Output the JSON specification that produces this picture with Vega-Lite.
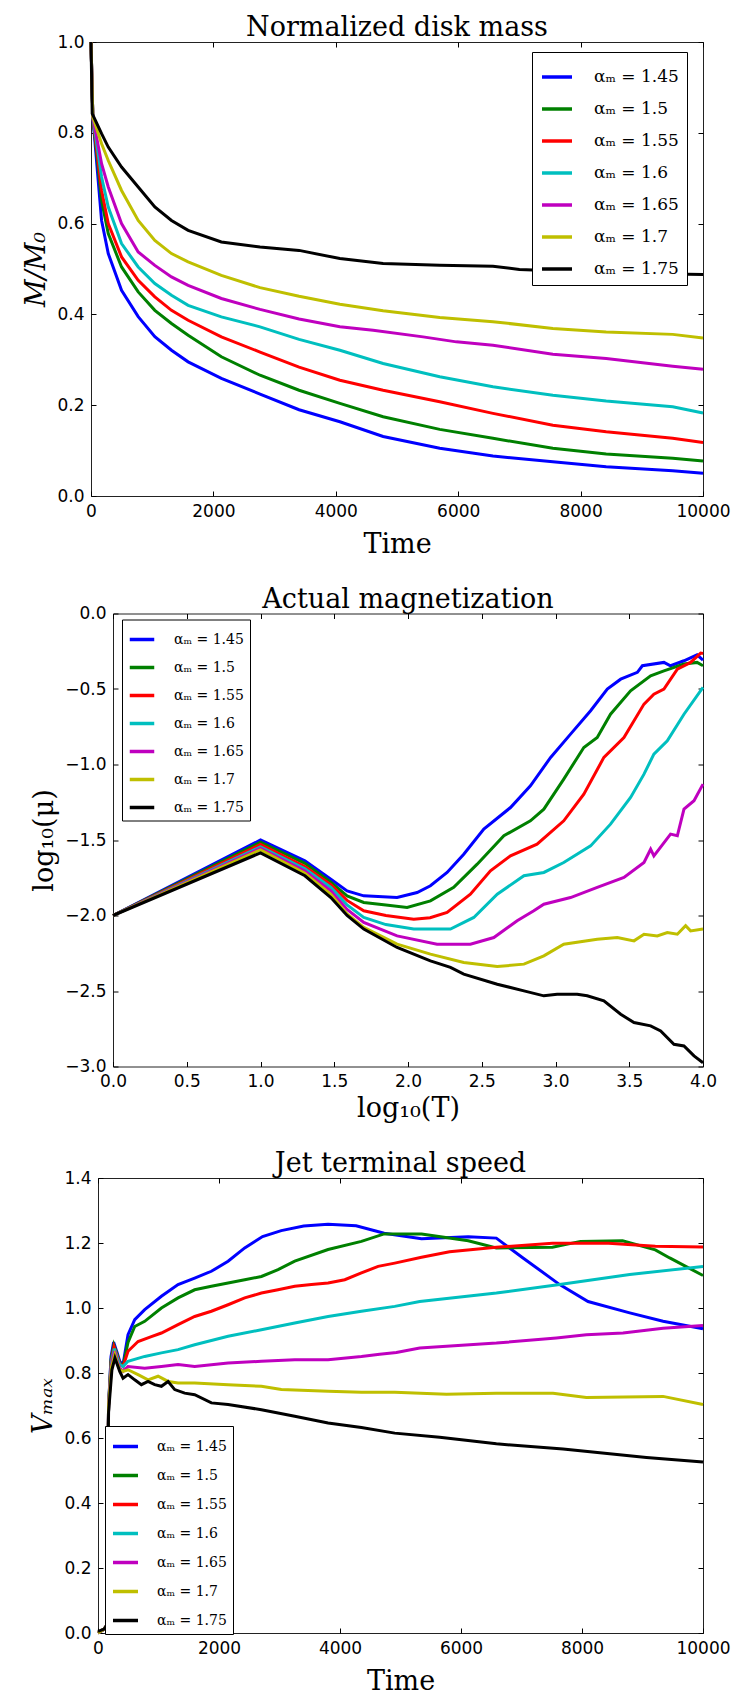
{
"$schema": "https://vega.github.io/schema/vega-lite/v6.json",
"background": "white",
"padding": {"left": 0, "top": 13, "right": 0, "bottom": 0},
"spacing": 26.5,
"resolve": {"scale": {"color": "independent"}, "legend": {"color": "independent"}},
"datasets": {
"mass": [
{"s":"αₘ = 1.45","x":0,"y":1.0},{"s":"αₘ = 1.45","x":30,"y":0.835},{"s":"αₘ = 1.45","x":173,"y":0.607},{"s":"αₘ = 1.45","x":282,"y":0.534},{"s":"αₘ = 1.45","x":499,"y":0.453},{"s":"αₘ = 1.45","x":771,"y":0.395},{"s":"αₘ = 1.45","x":1043,"y":0.351},{"s":"αₘ = 1.45","x":1315,"y":0.321},{"s":"αₘ = 1.45","x":1587,"y":0.2955},{"s":"αₘ = 1.45","x":2130,"y":0.259},{"s":"αₘ = 1.45","x":2762,"y":0.2245},{"s":"αₘ = 1.45","x":3400,"y":0.19},{"s":"αₘ = 1.45","x":4067,"y":0.1635},{"s":"αₘ = 1.45","x":4773,"y":0.131},{"s":"αₘ = 1.45","x":5698,"y":0.105},{"s":"αₘ = 1.45","x":6568,"y":0.088},{"s":"αₘ = 1.45","x":7547,"y":0.0755},{"s":"αₘ = 1.45","x":8418,"y":0.0645},{"s":"αₘ = 1.45","x":9505,"y":0.0557},{"s":"αₘ = 1.45","x":10000,"y":0.05},
{"s":"αₘ = 1.5","x":0,"y":1.0},{"s":"αₘ = 1.5","x":30,"y":0.835},{"s":"αₘ = 1.5","x":173,"y":0.651},{"s":"αₘ = 1.5","x":282,"y":0.578},{"s":"αₘ = 1.5","x":499,"y":0.5045},{"s":"αₘ = 1.5","x":771,"y":0.4496},{"s":"αₘ = 1.5","x":1043,"y":0.409},{"s":"αₘ = 1.5","x":1315,"y":0.38},{"s":"αₘ = 1.5","x":1587,"y":0.354},{"s":"αₘ = 1.5","x":2130,"y":0.3066},{"s":"αₘ = 1.5","x":2762,"y":0.266},{"s":"αₘ = 1.5","x":3400,"y":0.233},{"s":"αₘ = 1.5","x":4067,"y":0.204},{"s":"αₘ = 1.5","x":4773,"y":0.1745},{"s":"αₘ = 1.5","x":5698,"y":0.1467},{"s":"αₘ = 1.5","x":6568,"y":0.127},{"s":"αₘ = 1.5","x":7547,"y":0.105},{"s":"αₘ = 1.5","x":8418,"y":0.0924},{"s":"αₘ = 1.5","x":9505,"y":0.083},{"s":"αₘ = 1.5","x":10000,"y":0.077},
{"s":"αₘ = 1.55","x":0,"y":1.0},{"s":"αₘ = 1.55","x":30,"y":0.835},{"s":"αₘ = 1.55","x":173,"y":0.673},{"s":"αₘ = 1.55","x":282,"y":0.6},{"s":"αₘ = 1.55","x":499,"y":0.5266},{"s":"αₘ = 1.55","x":771,"y":0.475},{"s":"αₘ = 1.55","x":1043,"y":0.4385},{"s":"αₘ = 1.55","x":1315,"y":0.409},{"s":"αₘ = 1.55","x":1587,"y":0.387},{"s":"αₘ = 1.55","x":2130,"y":0.3505},{"s":"αₘ = 1.55","x":2762,"y":0.317},{"s":"αₘ = 1.55","x":3400,"y":0.284},{"s":"αₘ = 1.55","x":4067,"y":0.255},{"s":"αₘ = 1.55","x":4773,"y":0.233},{"s":"αₘ = 1.55","x":5698,"y":0.2075},{"s":"αₘ = 1.55","x":6568,"y":0.182},{"s":"αₘ = 1.55","x":7547,"y":0.156},{"s":"αₘ = 1.55","x":8418,"y":0.1415},{"s":"αₘ = 1.55","x":9505,"y":0.127},{"s":"αₘ = 1.55","x":10000,"y":0.118},
{"s":"αₘ = 1.6","x":0,"y":1.0},{"s":"αₘ = 1.6","x":30,"y":0.835},{"s":"αₘ = 1.6","x":173,"y":0.7026},{"s":"αₘ = 1.6","x":282,"y":0.6366},{"s":"αₘ = 1.6","x":499,"y":0.556},{"s":"αₘ = 1.6","x":771,"y":0.5045},{"s":"αₘ = 1.6","x":1043,"y":0.468},{"s":"αₘ = 1.6","x":1315,"y":0.442},{"s":"αₘ = 1.6","x":1587,"y":0.42},{"s":"αₘ = 1.6","x":2130,"y":0.3945},{"s":"αₘ = 1.6","x":2762,"y":0.3726},{"s":"αₘ = 1.6","x":3400,"y":0.345},{"s":"αₘ = 1.6","x":4067,"y":0.321},{"s":"αₘ = 1.6","x":4773,"y":0.292},{"s":"αₘ = 1.6","x":5698,"y":0.2626},{"s":"αₘ = 1.6","x":6568,"y":0.2405},{"s":"αₘ = 1.6","x":7547,"y":0.222},{"s":"αₘ = 1.6","x":8418,"y":0.209},{"s":"αₘ = 1.6","x":9505,"y":0.1966},{"s":"αₘ = 1.6","x":10000,"y":0.183},
{"s":"αₘ = 1.65","x":0,"y":1.0},{"s":"αₘ = 1.65","x":30,"y":0.835},{"s":"αₘ = 1.65","x":173,"y":0.732},{"s":"αₘ = 1.65","x":282,"y":0.6806},{"s":"αₘ = 1.65","x":499,"y":0.6},{"s":"αₘ = 1.65","x":771,"y":0.5375},{"s":"αₘ = 1.65","x":1043,"y":0.508},{"s":"αₘ = 1.65","x":1315,"y":0.4826},{"s":"αₘ = 1.65","x":1587,"y":0.464},{"s":"αₘ = 1.65","x":2130,"y":0.435},{"s":"αₘ = 1.65","x":2762,"y":0.411},{"s":"αₘ = 1.65","x":3400,"y":0.39},{"s":"αₘ = 1.65","x":4067,"y":0.3726},{"s":"αₘ = 1.65","x":4610,"y":0.365},{"s":"αₘ = 1.65","x":5426,"y":0.3505},{"s":"αₘ = 1.65","x":5970,"y":0.3395},{"s":"αₘ = 1.65","x":6568,"y":0.332},{"s":"αₘ = 1.65","x":7547,"y":0.312},{"s":"αₘ = 1.65","x":8418,"y":0.303},{"s":"αₘ = 1.65","x":9505,"y":0.286},{"s":"αₘ = 1.65","x":10000,"y":0.279},
{"s":"αₘ = 1.7","x":0,"y":1.0},{"s":"αₘ = 1.7","x":30,"y":0.835},{"s":"αₘ = 1.7","x":173,"y":0.776},{"s":"αₘ = 1.7","x":282,"y":0.739},{"s":"αₘ = 1.7","x":499,"y":0.673},{"s":"αₘ = 1.7","x":771,"y":0.607},{"s":"αₘ = 1.7","x":1043,"y":0.563},{"s":"αₘ = 1.7","x":1315,"y":0.534},{"s":"αₘ = 1.7","x":1587,"y":0.5155},{"s":"αₘ = 1.7","x":2130,"y":0.486},{"s":"αₘ = 1.7","x":2762,"y":0.459},{"s":"αₘ = 1.7","x":3400,"y":0.44},{"s":"αₘ = 1.7","x":4067,"y":0.4224},{"s":"αₘ = 1.7","x":4773,"y":0.408},{"s":"αₘ = 1.7","x":5698,"y":0.393},{"s":"αₘ = 1.7","x":6568,"y":0.384},{"s":"αₘ = 1.7","x":7547,"y":0.369},{"s":"αₘ = 1.7","x":8418,"y":0.3615},{"s":"αₘ = 1.7","x":9505,"y":0.356},{"s":"αₘ = 1.7","x":10000,"y":0.348},
{"s":"αₘ = 1.75","x":0,"y":1.0},{"s":"αₘ = 1.75","x":20,"y":0.842},{"s":"αₘ = 1.75","x":173,"y":0.798},{"s":"αₘ = 1.75","x":282,"y":0.7686},{"s":"αₘ = 1.75","x":499,"y":0.7245},{"s":"αₘ = 1.75","x":771,"y":0.6806},{"s":"αₘ = 1.75","x":1043,"y":0.6366},{"s":"αₘ = 1.75","x":1315,"y":0.607},{"s":"αₘ = 1.75","x":1587,"y":0.585},{"s":"αₘ = 1.75","x":2130,"y":0.5596},{"s":"αₘ = 1.75","x":2762,"y":0.5486},{"s":"αₘ = 1.75","x":3400,"y":0.541},{"s":"αₘ = 1.75","x":4067,"y":0.523},{"s":"αₘ = 1.75","x":4773,"y":0.512},{"s":"αₘ = 1.75","x":5698,"y":0.508},{"s":"αₘ = 1.75","x":6568,"y":0.506},{"s":"αₘ = 1.75","x":7000,"y":0.499},{"s":"αₘ = 1.75","x":8000,"y":0.494},{"s":"αₘ = 1.75","x":9000,"y":0.49},{"s":"αₘ = 1.75","x":10000,"y":0.488}
],
"mag": [
{"s":"αₘ = 1.45","x":0,"y":-2.0},{"s":"αₘ = 1.45","x":1.0,"y":-1.5},{"s":"αₘ = 1.45","x":1.301,"y":-1.638},{"s":"αₘ = 1.45","x":1.477,"y":-1.76},{"s":"αₘ = 1.45","x":1.587,"y":-1.837},{"s":"αₘ = 1.45","x":1.7,"y":-1.87},{"s":"αₘ = 1.45","x":1.926,"y":-1.88},{"s":"αₘ = 1.45","x":2.062,"y":-1.848},{"s":"αₘ = 1.45","x":2.152,"y":-1.803},{"s":"αₘ = 1.45","x":2.265,"y":-1.715},{"s":"αₘ = 1.45","x":2.378,"y":-1.594},{"s":"αₘ = 1.45","x":2.514,"y":-1.428},{"s":"αₘ = 1.45","x":2.695,"y":-1.285},{"s":"αₘ = 1.45","x":2.83,"y":-1.141},{"s":"αₘ = 1.45","x":2.967,"y":-0.953},{"s":"αₘ = 1.45","x":3.102,"y":-0.799},{"s":"αₘ = 1.45","x":3.238,"y":-0.644},{"s":"αₘ = 1.45","x":3.351,"y":-0.501},{"s":"αₘ = 1.45","x":3.442,"y":-0.435},{"s":"αₘ = 1.45","x":3.555,"y":-0.39},{"s":"αₘ = 1.45","x":3.589,"y":-0.346},{"s":"αₘ = 1.45","x":3.735,"y":-0.324},{"s":"αₘ = 1.45","x":3.78,"y":-0.346},{"s":"αₘ = 1.45","x":3.871,"y":-0.313},{"s":"αₘ = 1.45","x":3.96,"y":-0.274},{"s":"αₘ = 1.45","x":4.0,"y":-0.309},
{"s":"αₘ = 1.5","x":0,"y":-2.0},{"s":"αₘ = 1.5","x":1.0,"y":-1.515},{"s":"αₘ = 1.5","x":1.301,"y":-1.655},{"s":"αₘ = 1.5","x":1.477,"y":-1.78},{"s":"αₘ = 1.5","x":1.587,"y":-1.87},{"s":"αₘ = 1.5","x":1.7,"y":-1.914},{"s":"αₘ = 1.5","x":1.85,"y":-1.93},{"s":"αₘ = 1.5","x":1.994,"y":-1.947},{"s":"αₘ = 1.5","x":2.152,"y":-1.903},{"s":"αₘ = 1.5","x":2.31,"y":-1.814},{"s":"αₘ = 1.5","x":2.469,"y":-1.66},{"s":"αₘ = 1.5","x":2.65,"y":-1.472},{"s":"αₘ = 1.5","x":2.83,"y":-1.373},{"s":"αₘ = 1.5","x":2.921,"y":-1.296},{"s":"αₘ = 1.5","x":3.056,"y":-1.097},{"s":"αₘ = 1.5","x":3.192,"y":-0.887},{"s":"αₘ = 1.5","x":3.283,"y":-0.821},{"s":"αₘ = 1.5","x":3.373,"y":-0.667},{"s":"αₘ = 1.5","x":3.509,"y":-0.512},{"s":"αₘ = 1.5","x":3.645,"y":-0.413},{"s":"αₘ = 1.5","x":3.735,"y":-0.38},{"s":"αₘ = 1.5","x":3.871,"y":-0.335},{"s":"αₘ = 1.5","x":3.96,"y":-0.324},{"s":"αₘ = 1.5","x":4.0,"y":-0.346},
{"s":"αₘ = 1.55","x":0,"y":-2.0},{"s":"αₘ = 1.55","x":1.0,"y":-1.53},{"s":"αₘ = 1.55","x":1.301,"y":-1.675},{"s":"αₘ = 1.55","x":1.477,"y":-1.795},{"s":"αₘ = 1.55","x":1.587,"y":-1.9},{"s":"αₘ = 1.55","x":1.7,"y":-1.969},{"s":"αₘ = 1.55","x":1.85,"y":-2.0},{"s":"αₘ = 1.55","x":2.039,"y":-2.024},{"s":"αₘ = 1.55","x":2.15,"y":-2.015},{"s":"αₘ = 1.55","x":2.265,"y":-1.98},{"s":"αₘ = 1.55","x":2.423,"y":-1.859},{"s":"αₘ = 1.55","x":2.559,"y":-1.704},{"s":"αₘ = 1.55","x":2.695,"y":-1.605},{"s":"αₘ = 1.55","x":2.875,"y":-1.528},{"s":"αₘ = 1.55","x":3.056,"y":-1.373},{"s":"αₘ = 1.55","x":3.192,"y":-1.196},{"s":"αₘ = 1.55","x":3.328,"y":-0.953},{"s":"αₘ = 1.55","x":3.464,"y":-0.821},{"s":"αₘ = 1.55","x":3.6,"y":-0.6},{"s":"αₘ = 1.55","x":3.667,"y":-0.534},{"s":"αₘ = 1.55","x":3.735,"y":-0.5},{"s":"αₘ = 1.55","x":3.826,"y":-0.368},{"s":"αₘ = 1.55","x":3.916,"y":-0.324},{"s":"αₘ = 1.55","x":3.984,"y":-0.262},{"s":"αₘ = 1.55","x":4.0,"y":-0.265},
{"s":"αₘ = 1.6","x":0,"y":-2.0},{"s":"αₘ = 1.6","x":1.0,"y":-1.545},{"s":"αₘ = 1.6","x":1.301,"y":-1.69},{"s":"αₘ = 1.6","x":1.477,"y":-1.814},{"s":"αₘ = 1.6","x":1.587,"y":-1.93},{"s":"αₘ = 1.6","x":1.7,"y":-2.013},{"s":"αₘ = 1.6","x":1.85,"y":-2.06},{"s":"αₘ = 1.6","x":2.039,"y":-2.09},{"s":"αₘ = 1.6","x":2.288,"y":-2.09},{"s":"αₘ = 1.6","x":2.446,"y":-2.013},{"s":"αₘ = 1.6","x":2.605,"y":-1.859},{"s":"αₘ = 1.6","x":2.786,"y":-1.737},{"s":"αₘ = 1.6","x":2.921,"y":-1.715},{"s":"αₘ = 1.6","x":3.056,"y":-1.649},{"s":"αₘ = 1.6","x":3.238,"y":-1.539},{"s":"αₘ = 1.6","x":3.373,"y":-1.395},{"s":"αₘ = 1.6","x":3.509,"y":-1.218},{"s":"αₘ = 1.6","x":3.6,"y":-1.064},{"s":"αₘ = 1.6","x":3.667,"y":-0.931},{"s":"αₘ = 1.6","x":3.758,"y":-0.843},{"s":"αₘ = 1.6","x":3.871,"y":-0.667},{"s":"αₘ = 1.6","x":4.0,"y":-0.49},
{"s":"αₘ = 1.65","x":0,"y":-2.0},{"s":"αₘ = 1.65","x":1.0,"y":-1.555},{"s":"αₘ = 1.65","x":1.301,"y":-1.705},{"s":"αₘ = 1.65","x":1.477,"y":-1.837},{"s":"αₘ = 1.65","x":1.587,"y":-1.96},{"s":"αₘ = 1.65","x":1.7,"y":-2.046},{"s":"αₘ = 1.65","x":1.926,"y":-2.135},{"s":"αₘ = 1.65","x":2.197,"y":-2.19},{"s":"αₘ = 1.65","x":2.423,"y":-2.19},{"s":"αₘ = 1.65","x":2.582,"y":-2.146},{"s":"αₘ = 1.65","x":2.74,"y":-2.035},{"s":"αₘ = 1.65","x":2.853,"y":-1.969},{"s":"αₘ = 1.65","x":2.921,"y":-1.925},{"s":"αₘ = 1.65","x":3.102,"y":-1.881},{"s":"αₘ = 1.65","x":3.283,"y":-1.814},{"s":"αₘ = 1.65","x":3.464,"y":-1.748},{"s":"αₘ = 1.65","x":3.6,"y":-1.649},{"s":"αₘ = 1.65","x":3.645,"y":-1.561},{"s":"αₘ = 1.65","x":3.667,"y":-1.605},{"s":"αₘ = 1.65","x":3.78,"y":-1.461},{"s":"αₘ = 1.65","x":3.826,"y":-1.472},{"s":"αₘ = 1.65","x":3.871,"y":-1.296},{"s":"αₘ = 1.65","x":3.939,"y":-1.24},{"s":"αₘ = 1.65","x":4.0,"y":-1.13},
{"s":"αₘ = 1.7","x":0,"y":-2.0},{"s":"αₘ = 1.7","x":1.0,"y":-1.565},{"s":"αₘ = 1.7","x":1.301,"y":-1.72},{"s":"αₘ = 1.7","x":1.477,"y":-1.859},{"s":"αₘ = 1.7","x":1.587,"y":-1.99},{"s":"αₘ = 1.7","x":1.7,"y":-2.079},{"s":"αₘ = 1.7","x":1.926,"y":-2.19},{"s":"αₘ = 1.7","x":2.152,"y":-2.256},{"s":"αₘ = 1.7","x":2.378,"y":-2.311},{"s":"αₘ = 1.7","x":2.605,"y":-2.338},{"s":"αₘ = 1.7","x":2.786,"y":-2.322},{"s":"αₘ = 1.7","x":2.921,"y":-2.267},{"s":"αₘ = 1.7","x":3.056,"y":-2.19},{"s":"αₘ = 1.7","x":3.283,"y":-2.157},{"s":"αₘ = 1.7","x":3.419,"y":-2.146},{"s":"αₘ = 1.7","x":3.532,"y":-2.168},{"s":"αₘ = 1.7","x":3.6,"y":-2.124},{"s":"αₘ = 1.7","x":3.69,"y":-2.135},{"s":"αₘ = 1.7","x":3.758,"y":-2.113},{"s":"αₘ = 1.7","x":3.826,"y":-2.124},{"s":"αₘ = 1.7","x":3.882,"y":-2.068},{"s":"αₘ = 1.7","x":3.916,"y":-2.102},{"s":"αₘ = 1.7","x":4.0,"y":-2.09},
{"s":"αₘ = 1.75","x":0,"y":-2.0},{"s":"αₘ = 1.75","x":1.0,"y":-1.585},{"s":"αₘ = 1.75","x":1.301,"y":-1.737},{"s":"αₘ = 1.75","x":1.477,"y":-1.881},{"s":"αₘ = 1.75","x":1.587,"y":-2.0},{"s":"αₘ = 1.75","x":1.7,"y":-2.09},{"s":"αₘ = 1.75","x":1.926,"y":-2.212},{"s":"αₘ = 1.75","x":2.152,"y":-2.3},{"s":"αₘ = 1.75","x":2.288,"y":-2.344},{"s":"αₘ = 1.75","x":2.378,"y":-2.388},{"s":"αₘ = 1.75","x":2.605,"y":-2.455},{"s":"αₘ = 1.75","x":2.786,"y":-2.499},{"s":"αₘ = 1.75","x":2.921,"y":-2.532},{"s":"αₘ = 1.75","x":3.011,"y":-2.521},{"s":"αₘ = 1.75","x":3.147,"y":-2.521},{"s":"αₘ = 1.75","x":3.215,"y":-2.532},{"s":"αₘ = 1.75","x":3.328,"y":-2.565},{"s":"αₘ = 1.75","x":3.442,"y":-2.654},{"s":"αₘ = 1.75","x":3.532,"y":-2.709},{"s":"αₘ = 1.75","x":3.645,"y":-2.731},{"s":"αₘ = 1.75","x":3.713,"y":-2.765},{"s":"αₘ = 1.75","x":3.803,"y":-2.853},{"s":"αₘ = 1.75","x":3.871,"y":-2.864},{"s":"αₘ = 1.75","x":3.939,"y":-2.93},{"s":"αₘ = 1.75","x":4.0,"y":-2.975}
],
"speed": [
{"s":"αₘ = 1.45","x":0,"y":0.0},{"s":"αₘ = 1.45","x":100,"y":0.012},{"s":"αₘ = 1.45","x":150,"y":0.025},{"s":"αₘ = 1.45","x":158,"y":0.45},{"s":"αₘ = 1.45","x":175,"y":0.7},{"s":"αₘ = 1.45","x":215,"y":0.85},{"s":"αₘ = 1.45","x":259,"y":0.895},{"s":"αₘ = 1.45","x":320,"y":0.86},{"s":"αₘ = 1.45","x":359,"y":0.836},{"s":"αₘ = 1.45","x":414,"y":0.826},{"s":"αₘ = 1.45","x":496,"y":0.918},{"s":"αₘ = 1.45","x":607,"y":0.964},{"s":"αₘ = 1.45","x":772,"y":0.995},{"s":"αₘ = 1.45","x":1048,"y":1.036},{"s":"αₘ = 1.45","x":1323,"y":1.072},{"s":"αₘ = 1.45","x":1598,"y":1.092},{"s":"αₘ = 1.45","x":1874,"y":1.113},{"s":"αₘ = 1.45","x":2150,"y":1.144},{"s":"αₘ = 1.45","x":2425,"y":1.185},{"s":"αₘ = 1.45","x":2720,"y":1.22},{"s":"αₘ = 1.45","x":3029,"y":1.238},{"s":"αₘ = 1.45","x":3400,"y":1.252},{"s":"αₘ = 1.45","x":3802,"y":1.258},{"s":"αₘ = 1.45","x":4266,"y":1.253},{"s":"αₘ = 1.45","x":4730,"y":1.23},{"s":"αₘ = 1.45","x":5348,"y":1.213},{"s":"αₘ = 1.45","x":6120,"y":1.219},{"s":"αₘ = 1.45","x":6584,"y":1.215},{"s":"αₘ = 1.45","x":7025,"y":1.154},{"s":"αₘ = 1.45","x":7631,"y":1.072},{"s":"αₘ = 1.45","x":8100,"y":1.02},{"s":"αₘ = 1.45","x":8789,"y":0.985},{"s":"αₘ = 1.45","x":9340,"y":0.959},{"s":"αₘ = 1.45","x":10000,"y":0.936},
{"s":"αₘ = 1.5","x":0,"y":0.0},{"s":"αₘ = 1.5","x":100,"y":0.012},{"s":"αₘ = 1.5","x":150,"y":0.025},{"s":"αₘ = 1.5","x":158,"y":0.45},{"s":"αₘ = 1.5","x":175,"y":0.7},{"s":"αₘ = 1.5","x":215,"y":0.84},{"s":"αₘ = 1.5","x":262,"y":0.886},{"s":"αₘ = 1.5","x":320,"y":0.855},{"s":"αₘ = 1.5","x":359,"y":0.83},{"s":"αₘ = 1.5","x":414,"y":0.822},{"s":"αₘ = 1.5","x":496,"y":0.894},{"s":"αₘ = 1.5","x":607,"y":0.943},{"s":"αₘ = 1.5","x":772,"y":0.959},{"s":"αₘ = 1.5","x":1048,"y":1.0},{"s":"αₘ = 1.5","x":1323,"y":1.031},{"s":"αₘ = 1.5","x":1598,"y":1.056},{"s":"αₘ = 1.5","x":1874,"y":1.067},{"s":"αₘ = 1.5","x":2150,"y":1.077},{"s":"αₘ = 1.5","x":2425,"y":1.087},{"s":"αₘ = 1.5","x":2701,"y":1.097},{"s":"αₘ = 1.5","x":2976,"y":1.118},{"s":"αₘ = 1.5","x":3252,"y":1.144},{"s":"αₘ = 1.5","x":3803,"y":1.18},{"s":"αₘ = 1.5","x":4354,"y":1.205},{"s":"αₘ = 1.5","x":4730,"y":1.228},{"s":"αₘ = 1.5","x":5348,"y":1.228},{"s":"αₘ = 1.5","x":6120,"y":1.207},{"s":"αₘ = 1.5","x":6584,"y":1.185},{"s":"αₘ = 1.5","x":7512,"y":1.187},{"s":"αₘ = 1.5","x":7975,"y":1.205},{"s":"αₘ = 1.5","x":8671,"y":1.207},{"s":"αₘ = 1.5","x":9212,"y":1.179},{"s":"αₘ = 1.5","x":9450,"y":1.154},{"s":"αₘ = 1.5","x":10000,"y":1.1},
{"s":"αₘ = 1.55","x":0,"y":0.0},{"s":"αₘ = 1.55","x":100,"y":0.012},{"s":"αₘ = 1.55","x":150,"y":0.025},{"s":"αₘ = 1.55","x":158,"y":0.45},{"s":"αₘ = 1.55","x":175,"y":0.7},{"s":"αₘ = 1.55","x":218,"y":0.835},{"s":"αₘ = 1.55","x":265,"y":0.88},{"s":"αₘ = 1.55","x":320,"y":0.85},{"s":"αₘ = 1.55","x":359,"y":0.828},{"s":"αₘ = 1.55","x":414,"y":0.82},{"s":"αₘ = 1.55","x":496,"y":0.867},{"s":"αₘ = 1.55","x":662,"y":0.897},{"s":"αₘ = 1.55","x":882,"y":0.912},{"s":"αₘ = 1.55","x":1048,"y":0.923},{"s":"αₘ = 1.55","x":1323,"y":0.949},{"s":"αₘ = 1.55","x":1598,"y":0.974},{"s":"αₘ = 1.55","x":1874,"y":0.99},{"s":"αₘ = 1.55","x":2150,"y":1.01},{"s":"αₘ = 1.55","x":2425,"y":1.031},{"s":"αₘ = 1.55","x":2701,"y":1.046},{"s":"αₘ = 1.55","x":2976,"y":1.056},{"s":"αₘ = 1.55","x":3252,"y":1.067},{"s":"αₘ = 1.55","x":3528,"y":1.072},{"s":"αₘ = 1.55","x":3803,"y":1.077},{"s":"αₘ = 1.55","x":4079,"y":1.087},{"s":"αₘ = 1.55","x":4354,"y":1.108},{"s":"αₘ = 1.55","x":4630,"y":1.128},{"s":"αₘ = 1.55","x":4905,"y":1.138},{"s":"αₘ = 1.55","x":5348,"y":1.156},{"s":"αₘ = 1.55","x":5811,"y":1.173},{"s":"αₘ = 1.55","x":6584,"y":1.187},{"s":"αₘ = 1.55","x":7512,"y":1.199},{"s":"αₘ = 1.55","x":8439,"y":1.199},{"s":"αₘ = 1.55","x":9212,"y":1.19},{"s":"αₘ = 1.55","x":10000,"y":1.188},
{"s":"αₘ = 1.6","x":0,"y":0.0},{"s":"αₘ = 1.6","x":100,"y":0.012},{"s":"αₘ = 1.6","x":150,"y":0.025},{"s":"αₘ = 1.6","x":158,"y":0.45},{"s":"αₘ = 1.6","x":175,"y":0.7},{"s":"αₘ = 1.6","x":220,"y":0.83},{"s":"αₘ = 1.6","x":270,"y":0.875},{"s":"αₘ = 1.6","x":320,"y":0.845},{"s":"αₘ = 1.6","x":359,"y":0.826},{"s":"αₘ = 1.6","x":414,"y":0.82},{"s":"αₘ = 1.6","x":496,"y":0.836},{"s":"αₘ = 1.6","x":772,"y":0.851},{"s":"αₘ = 1.6","x":1048,"y":0.862},{"s":"αₘ = 1.6","x":1323,"y":0.872},{"s":"αₘ = 1.6","x":1598,"y":0.887},{"s":"αₘ = 1.6","x":2150,"y":0.913},{"s":"αₘ = 1.6","x":2701,"y":0.933},{"s":"αₘ = 1.6","x":3252,"y":0.954},{"s":"αₘ = 1.6","x":3803,"y":0.974},{"s":"αₘ = 1.6","x":4354,"y":0.99},{"s":"αₘ = 1.6","x":4905,"y":1.005},{"s":"αₘ = 1.6","x":5318,"y":1.02},{"s":"αₘ = 1.6","x":6585,"y":1.046},{"s":"αₘ = 1.6","x":7631,"y":1.072},{"s":"αₘ = 1.6","x":8789,"y":1.103},{"s":"αₘ = 1.6","x":10000,"y":1.128},
{"s":"αₘ = 1.65","x":0,"y":0.0},{"s":"αₘ = 1.65","x":100,"y":0.012},{"s":"αₘ = 1.65","x":150,"y":0.025},{"s":"αₘ = 1.65","x":158,"y":0.45},{"s":"αₘ = 1.65","x":175,"y":0.7},{"s":"αₘ = 1.65","x":222,"y":0.825},{"s":"αₘ = 1.65","x":275,"y":0.867},{"s":"αₘ = 1.65","x":320,"y":0.835},{"s":"αₘ = 1.65","x":359,"y":0.815},{"s":"αₘ = 1.65","x":414,"y":0.805},{"s":"αₘ = 1.65","x":496,"y":0.82},{"s":"αₘ = 1.65","x":772,"y":0.815},{"s":"αₘ = 1.65","x":1048,"y":0.82},{"s":"αₘ = 1.65","x":1323,"y":0.826},{"s":"αₘ = 1.65","x":1598,"y":0.82},{"s":"αₘ = 1.65","x":2150,"y":0.831},{"s":"αₘ = 1.65","x":2701,"y":0.836},{"s":"αₘ = 1.65","x":3252,"y":0.841},{"s":"αₘ = 1.65","x":3803,"y":0.841},{"s":"αₘ = 1.65","x":4354,"y":0.851},{"s":"αₘ = 1.65","x":4656,"y":0.858},{"s":"αₘ = 1.65","x":4932,"y":0.863},{"s":"αₘ = 1.65","x":5318,"y":0.877},{"s":"αₘ = 1.65","x":6585,"y":0.892},{"s":"αₘ = 1.65","x":7576,"y":0.908},{"s":"αₘ = 1.65","x":8072,"y":0.918},{"s":"αₘ = 1.65","x":8678,"y":0.923},{"s":"αₘ = 1.65","x":9340,"y":0.938},{"s":"αₘ = 1.65","x":10000,"y":0.946},
{"s":"αₘ = 1.7","x":0,"y":0.0},{"s":"αₘ = 1.7","x":100,"y":0.012},{"s":"αₘ = 1.7","x":150,"y":0.025},{"s":"αₘ = 1.7","x":158,"y":0.45},{"s":"αₘ = 1.7","x":175,"y":0.7},{"s":"αₘ = 1.7","x":225,"y":0.82},{"s":"αₘ = 1.7","x":278,"y":0.856},{"s":"αₘ = 1.7","x":320,"y":0.83},{"s":"αₘ = 1.7","x":359,"y":0.81},{"s":"αₘ = 1.7","x":414,"y":0.805},{"s":"αₘ = 1.7","x":496,"y":0.81},{"s":"αₘ = 1.7","x":662,"y":0.795},{"s":"αₘ = 1.7","x":827,"y":0.779},{"s":"αₘ = 1.7","x":993,"y":0.79},{"s":"αₘ = 1.7","x":1159,"y":0.774},{"s":"αₘ = 1.7","x":1323,"y":0.769},{"s":"αₘ = 1.7","x":1598,"y":0.769},{"s":"αₘ = 1.7","x":2150,"y":0.764},{"s":"αₘ = 1.7","x":2701,"y":0.759},{"s":"αₘ = 1.7","x":3031,"y":0.749},{"s":"αₘ = 1.7","x":3803,"y":0.744},{"s":"αₘ = 1.7","x":4354,"y":0.741},{"s":"αₘ = 1.7","x":4905,"y":0.741},{"s":"αₘ = 1.7","x":5759,"y":0.735},{"s":"αₘ = 1.7","x":6585,"y":0.738},{"s":"αₘ = 1.7","x":7521,"y":0.738},{"s":"αₘ = 1.7","x":8072,"y":0.725},{"s":"αₘ = 1.7","x":9340,"y":0.728},{"s":"αₘ = 1.7","x":10000,"y":0.703},
{"s":"αₘ = 1.75","x":0,"y":0.005},{"s":"αₘ = 1.75","x":100,"y":0.012},{"s":"αₘ = 1.75","x":150,"y":0.025},{"s":"αₘ = 1.75","x":158,"y":0.45},{"s":"αₘ = 1.75","x":175,"y":0.68},{"s":"αₘ = 1.75","x":230,"y":0.81},{"s":"αₘ = 1.75","x":280,"y":0.846},{"s":"αₘ = 1.75","x":359,"y":0.805},{"s":"αₘ = 1.75","x":414,"y":0.784},{"s":"αₘ = 1.75","x":496,"y":0.795},{"s":"αₘ = 1.75","x":607,"y":0.779},{"s":"αₘ = 1.75","x":717,"y":0.764},{"s":"αₘ = 1.75","x":827,"y":0.774},{"s":"αₘ = 1.75","x":937,"y":0.764},{"s":"αₘ = 1.75","x":1048,"y":0.759},{"s":"αₘ = 1.75","x":1159,"y":0.774},{"s":"αₘ = 1.75","x":1268,"y":0.749},{"s":"αₘ = 1.75","x":1433,"y":0.738},{"s":"αₘ = 1.75","x":1598,"y":0.733},{"s":"αₘ = 1.75","x":1874,"y":0.708},{"s":"αₘ = 1.75","x":2150,"y":0.703},{"s":"αₘ = 1.75","x":2701,"y":0.687},{"s":"αₘ = 1.75","x":3252,"y":0.667},{"s":"αₘ = 1.75","x":3803,"y":0.646},{"s":"αₘ = 1.75","x":4354,"y":0.632},{"s":"αₘ = 1.75","x":4905,"y":0.615},{"s":"αₘ = 1.75","x":5648,"y":0.602},{"s":"αₘ = 1.75","x":6585,"y":0.582},{"s":"αₘ = 1.75","x":7687,"y":0.566},{"s":"αₘ = 1.75","x":9065,"y":0.54},{"s":"αₘ = 1.75","x":10000,"y":0.526}
]
},
"vconcat": [
{"hconcat": [
 {"width": 91, "height": 20, "data": {"values": [{"a": 1}]}, "mark": {"type": "point", "opacity": 0}, "encoding": {}, "view": {"fill": "white", "stroke": null}},
 {
 "width": 612, "height": 454,
 "title": {"text": "Normalized disk mass"},
 "data": {"name": "mass"},
 "layer": [
 {"mark": {"type": "line", "strokeWidth": 3},
  "encoding": {
   "x": {"field": "x", "type": "quantitative", "scale": {"domain": [0, 10000], "nice": false, "zero": false}, "axis": {"title": "Time", "titlePadding": 12, "values": [0, 2000, 4000, 6000, 8000, 10000], "format": "d"}},
   "y": {"field": "y", "type": "quantitative", "scale": {"domain": [0, 1], "nice": false, "zero": false}, "axis": {"title": "M/M₀", "titleFontStyle": "italic", "titlePadding": 6, "values": [0, 0.2, 0.4, 0.6, 0.8, 1.0], "format": ".1f"}},
   "color": {"field": "s", "type": "nominal",
    "scale": {"domain": ["αₘ = 1.45", "αₘ = 1.5", "αₘ = 1.55", "αₘ = 1.6", "αₘ = 1.65", "αₘ = 1.7", "αₘ = 1.75"], "range": ["#0000ff", "#008000", "#ff0000", "#00bfbf", "#bf00bf", "#bfbf00", "#000000"]},
    "legend": {"orient": "none", "legendX": 532, "legendY": 10, "title": null, "symbolSize": 900, "labelFontSize": 17, "labelOffset": 20, "rowPadding": 7, "padding": 8}}
  }},
 {"mark": {"type": "line", "strokeOpacity": 0},
  "encoding": {
   "x": {"field": "x", "type": "quantitative", "axis": {"orient": "top", "labels": false, "title": null, "values": [0, 2000, 4000, 6000, 8000, 10000]}},
   "y": {"field": "y", "type": "quantitative", "axis": {"orient": "right", "labels": false, "title": null, "values": [0, 0.2, 0.4, 0.6, 0.8, 1.0]}}
  }}
 ],
 "resolve": {"axis": {"x": "independent", "y": "independent"}}
 }
], "spacing": 0, "bounds": "flush"},
{"hconcat": [
 {"width": 113, "height": 20, "data": {"values": [{"a": 1}]}, "mark": {"type": "point", "opacity": 0}, "encoding": {}, "view": {"fill": "white", "stroke": null}},
 {
 "width": 590, "height": 453,
 "title": {"text": "Actual magnetization"},
 "data": {"name": "mag"},
 "layer": [
 {"mark": {"type": "line", "strokeWidth": 3},
  "encoding": {
   "x": {"field": "x", "type": "quantitative", "scale": {"domain": [0, 4], "nice": false, "zero": false}, "axis": {"title": "log₁₀(T)", "titlePadding": 6, "values": [0, 0.5, 1, 1.5, 2, 2.5, 3, 3.5, 4], "format": ".1f"}},
   "y": {"field": "y", "type": "quantitative", "scale": {"domain": [-3, 0], "nice": false, "zero": false}, "axis": {"title": "log₁₀(μ)", "titlePadding": 6, "values": [-3, -2.5, -2, -1.5, -1, -0.5, 0], "format": ".1f"}},
   "color": {"field": "s", "type": "nominal",
    "scale": {"domain": ["αₘ = 1.45", "αₘ = 1.5", "αₘ = 1.55", "αₘ = 1.6", "αₘ = 1.65", "αₘ = 1.7", "αₘ = 1.75"], "range": ["#0000ff", "#008000", "#ff0000", "#00bfbf", "#bf00bf", "#bfbf00", "#000000"]},
    "legend": {"orient": "none", "legendX": 122, "legendY": 6, "title": null, "symbolSize": 600, "labelFontSize": 14, "labelOffset": 18, "rowPadding": 7, "padding": 6}}
  }},
 {"mark": {"type": "line", "strokeOpacity": 0},
  "encoding": {
   "x": {"field": "x", "type": "quantitative", "axis": {"orient": "top", "labels": false, "title": null, "values": [0, 0.5, 1, 1.5, 2, 2.5, 3, 3.5, 4]}},
   "y": {"field": "y", "type": "quantitative", "axis": {"orient": "right", "labels": false, "title": null, "values": [-3, -2.5, -2, -1.5, -1, -0.5, 0]}}
  }}
 ],
 "resolve": {"axis": {"x": "independent", "y": "independent"}}
 }
], "spacing": 0, "bounds": "flush"},
{"hconcat": [
 {"width": 98, "height": 20, "data": {"values": [{"a": 1}]}, "mark": {"type": "point", "opacity": 0}, "encoding": {}, "view": {"fill": "white", "stroke": null}},
 {
 "width": 605, "height": 455,
 "title": {"text": "Jet terminal speed"},
 "data": {"name": "speed"},
 "layer": [
 {"mark": {"type": "line", "strokeWidth": 3},
  "encoding": {
   "x": {"field": "x", "type": "quantitative", "scale": {"domain": [0, 10000], "nice": false, "zero": false}, "axis": {"title": "Time", "titlePadding": 12, "values": [0, 2000, 4000, 6000, 8000, 10000], "format": "d"}},
   "y": {"field": "y", "type": "quantitative", "scale": {"domain": [0, 1.4], "nice": false, "zero": false}, "axis": {"title": "Vₘₐₓ", "titleFontStyle": "italic", "titlePadding": 6, "values": [0, 0.2, 0.4, 0.6, 0.8, 1.0, 1.2, 1.4], "format": ".1f"}},
   "color": {"field": "s", "type": "nominal",
    "scale": {"domain": ["αₘ = 1.45", "αₘ = 1.5", "αₘ = 1.55", "αₘ = 1.6", "αₘ = 1.65", "αₘ = 1.7", "αₘ = 1.75"], "range": ["#0000ff", "#008000", "#ff0000", "#00bfbf", "#bf00bf", "#bfbf00", "#000000"]},
    "legend": {"orient": "none", "legendX": 105, "legendY": 248, "title": null, "symbolSize": 625, "labelFontSize": 14, "labelOffset": 17, "rowPadding": 7, "padding": 6}}
  }},
 {"mark": {"type": "line", "strokeOpacity": 0},
  "encoding": {
   "x": {"field": "x", "type": "quantitative", "axis": {"orient": "top", "labels": false, "title": null, "values": [0, 2000, 4000, 6000, 8000, 10000]}},
   "y": {"field": "y", "type": "quantitative", "axis": {"orient": "right", "labels": false, "title": null, "values": [0, 0.2, 0.4, 0.6, 0.8, 1.0, 1.2, 1.4]}}
  }}
 ],
 "resolve": {"axis": {"x": "independent", "y": "independent"}}
 }
], "spacing": 0, "bounds": "flush"}
],
"config": {
 "font": "DejaVu Sans",
 "view": {"stroke": "#222222", "strokeWidth": 1},
 "axis": {"labelFont": "DejaVu Sans", "labelFontSize": 17, "labelColor": "black", "titleFont": "DejaVu Serif", "titleFontSize": 27, "titleFontWeight": "normal", "titleColor": "black", "tickColor": "black", "tickSize": -5, "tickWidth": 1, "labelPadding": 12, "grid": false, "domain": false, "labelFlush": false, "labelOverlap": false},
 "title": {"font": "DejaVu Serif", "fontSize": 27, "fontWeight": "normal", "color": "black", "frame": "group", "anchor": "middle", "offset": -9},
 "legend": {"strokeColor": "black", "fillColor": "white", "symbolType": "stroke", "symbolStrokeWidth": 3.5, "labelFont": "DejaVu Serif", "labelColor": "black", "cornerRadius": 0, "labelLimit": 300}
}
}
